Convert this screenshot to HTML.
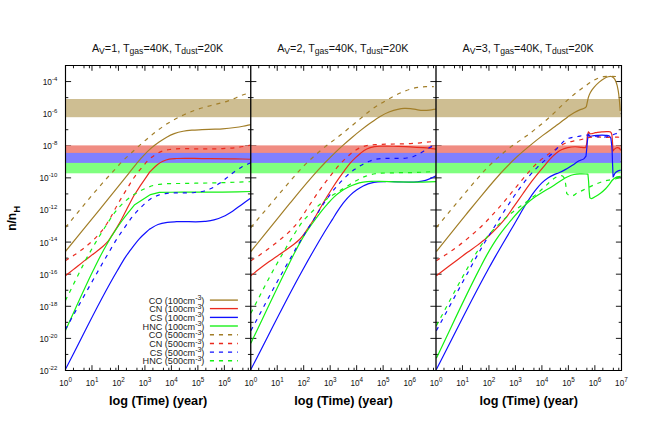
<!DOCTYPE html>
<html><head><meta charset="utf-8"><title>chart</title>
<style>html,body{margin:0;padding:0;background:#fff}body{width:654px;height:436px;position:relative;overflow:hidden;font-family:"Liberation Sans",sans-serif}</style></head>
<body>
<svg width="654" height="436" viewBox="0 0 654 436" style="position:absolute;left:0;top:0;font-family:'Liberation Sans',sans-serif">
<rect width="654" height="436" fill="#fff"/>
<path d="M65.50 354.45h2.80 M250.75 354.45h-2.80 M65.50 338.39h5.60 M250.75 338.39h-5.60 M65.50 322.34h2.80 M250.75 322.34h-2.80 M65.50 306.29h5.60 M250.75 306.29h-5.60 M65.50 290.24h2.80 M250.75 290.24h-2.80 M65.50 274.18h5.60 M250.75 274.18h-5.60 M65.50 258.13h2.80 M250.75 258.13h-2.80 M65.50 242.08h5.60 M250.75 242.08h-5.60 M65.50 226.03h2.80 M250.75 226.03h-2.80 M65.50 209.97h5.60 M250.75 209.97h-5.60 M65.50 193.92h2.80 M250.75 193.92h-2.80 M65.50 177.87h5.60 M250.75 177.87h-5.60 M65.50 161.82h2.80 M250.75 161.82h-2.80 M65.50 145.76h5.60 M250.75 145.76h-5.60 M65.50 129.71h2.80 M250.75 129.71h-2.80 M65.50 113.66h5.60 M250.75 113.66h-5.60 M65.50 97.61h2.80 M250.75 97.61h-2.80 M65.50 81.55h5.60 M250.75 81.55h-5.60 M73.47 370.50v-2.75 M73.47 65.50v2.75 M84.01 370.50v-2.75 M84.01 65.50v2.75 M89.41 370.50v-2.75 M89.41 65.50v2.75 M91.98 370.50v-5.30 M91.98 65.50v5.30 M99.95 370.50v-2.75 M99.95 65.50v2.75 M110.48 370.50v-2.75 M110.48 65.50v2.75 M115.89 370.50v-2.75 M115.89 65.50v2.75 M118.45 370.50v-5.30 M118.45 65.50v5.30 M126.42 370.50v-2.75 M126.42 65.50v2.75 M136.96 370.50v-2.75 M136.96 65.50v2.75 M142.36 370.50v-2.75 M142.36 65.50v2.75 M144.93 370.50v-5.30 M144.93 65.50v5.30 M152.90 370.50v-2.75 M152.90 65.50v2.75 M163.43 370.50v-2.75 M163.43 65.50v2.75 M168.84 370.50v-2.75 M168.84 65.50v2.75 M171.40 370.50v-5.30 M171.40 65.50v5.30 M179.37 370.50v-2.75 M179.37 65.50v2.75 M189.91 370.50v-2.75 M189.91 65.50v2.75 M195.32 370.50v-2.75 M195.32 65.50v2.75 M197.88 370.50v-5.30 M197.88 65.50v5.30 M205.85 370.50v-2.75 M205.85 65.50v2.75 M216.39 370.50v-2.75 M216.39 65.50v2.75 M221.79 370.50v-2.75 M221.79 65.50v2.75 M224.36 370.50v-5.30 M224.36 65.50v5.30 M232.33 370.50v-2.75 M232.33 65.50v2.75 M242.86 370.50v-2.75 M242.86 65.50v2.75 M248.27 370.50v-2.75 M248.27 65.50v2.75 M250.75 354.45h2.80 M436.00 354.45h-2.80 M250.75 338.39h5.60 M436.00 338.39h-5.60 M250.75 322.34h2.80 M436.00 322.34h-2.80 M250.75 306.29h5.60 M436.00 306.29h-5.60 M250.75 290.24h2.80 M436.00 290.24h-2.80 M250.75 274.18h5.60 M436.00 274.18h-5.60 M250.75 258.13h2.80 M436.00 258.13h-2.80 M250.75 242.08h5.60 M436.00 242.08h-5.60 M250.75 226.03h2.80 M436.00 226.03h-2.80 M250.75 209.97h5.60 M436.00 209.97h-5.60 M250.75 193.92h2.80 M436.00 193.92h-2.80 M250.75 177.87h5.60 M436.00 177.87h-5.60 M250.75 161.82h2.80 M436.00 161.82h-2.80 M250.75 145.76h5.60 M436.00 145.76h-5.60 M250.75 129.71h2.80 M436.00 129.71h-2.80 M250.75 113.66h5.60 M436.00 113.66h-5.60 M250.75 97.61h2.80 M436.00 97.61h-2.80 M250.75 81.55h5.60 M436.00 81.55h-5.60 M258.72 370.50v-2.75 M258.72 65.50v2.75 M269.26 370.50v-2.75 M269.26 65.50v2.75 M274.66 370.50v-2.75 M274.66 65.50v2.75 M277.23 370.50v-5.30 M277.23 65.50v5.30 M285.20 370.50v-2.75 M285.20 65.50v2.75 M295.73 370.50v-2.75 M295.73 65.50v2.75 M301.14 370.50v-2.75 M301.14 65.50v2.75 M303.70 370.50v-5.30 M303.70 65.50v5.30 M311.67 370.50v-2.75 M311.67 65.50v2.75 M322.21 370.50v-2.75 M322.21 65.50v2.75 M327.61 370.50v-2.75 M327.61 65.50v2.75 M330.18 370.50v-5.30 M330.18 65.50v5.30 M338.15 370.50v-2.75 M338.15 65.50v2.75 M348.68 370.50v-2.75 M348.68 65.50v2.75 M354.09 370.50v-2.75 M354.09 65.50v2.75 M356.65 370.50v-5.30 M356.65 65.50v5.30 M364.62 370.50v-2.75 M364.62 65.50v2.75 M375.16 370.50v-2.75 M375.16 65.50v2.75 M380.57 370.50v-2.75 M380.57 65.50v2.75 M383.13 370.50v-5.30 M383.13 65.50v5.30 M391.10 370.50v-2.75 M391.10 65.50v2.75 M401.64 370.50v-2.75 M401.64 65.50v2.75 M407.04 370.50v-2.75 M407.04 65.50v2.75 M409.61 370.50v-5.30 M409.61 65.50v5.30 M417.58 370.50v-2.75 M417.58 65.50v2.75 M428.11 370.50v-2.75 M428.11 65.50v2.75 M433.52 370.50v-2.75 M433.52 65.50v2.75 M436.00 354.45h2.80 M621.50 354.45h-2.80 M436.00 338.39h5.60 M621.50 338.39h-5.60 M436.00 322.34h2.80 M621.50 322.34h-2.80 M436.00 306.29h5.60 M621.50 306.29h-5.60 M436.00 290.24h2.80 M621.50 290.24h-2.80 M436.00 274.18h5.60 M621.50 274.18h-5.60 M436.00 258.13h2.80 M621.50 258.13h-2.80 M436.00 242.08h5.60 M621.50 242.08h-5.60 M436.00 226.03h2.80 M621.50 226.03h-2.80 M436.00 209.97h5.60 M621.50 209.97h-5.60 M436.00 193.92h2.80 M621.50 193.92h-2.80 M436.00 177.87h5.60 M621.50 177.87h-5.60 M436.00 161.82h2.80 M621.50 161.82h-2.80 M436.00 145.76h5.60 M621.50 145.76h-5.60 M436.00 129.71h2.80 M621.50 129.71h-2.80 M436.00 113.66h5.60 M621.50 113.66h-5.60 M436.00 97.61h2.80 M621.50 97.61h-2.80 M436.00 81.55h5.60 M621.50 81.55h-5.60 M443.97 370.50v-2.75 M443.97 65.50v2.75 M454.51 370.50v-2.75 M454.51 65.50v2.75 M459.91 370.50v-2.75 M459.91 65.50v2.75 M462.48 370.50v-5.30 M462.48 65.50v5.30 M470.45 370.50v-2.75 M470.45 65.50v2.75 M480.98 370.50v-2.75 M480.98 65.50v2.75 M486.39 370.50v-2.75 M486.39 65.50v2.75 M488.95 370.50v-5.30 M488.95 65.50v5.30 M496.92 370.50v-2.75 M496.92 65.50v2.75 M507.46 370.50v-2.75 M507.46 65.50v2.75 M512.86 370.50v-2.75 M512.86 65.50v2.75 M515.43 370.50v-5.30 M515.43 65.50v5.30 M523.40 370.50v-2.75 M523.40 65.50v2.75 M533.93 370.50v-2.75 M533.93 65.50v2.75 M539.34 370.50v-2.75 M539.34 65.50v2.75 M541.90 370.50v-5.30 M541.90 65.50v5.30 M549.87 370.50v-2.75 M549.87 65.50v2.75 M560.41 370.50v-2.75 M560.41 65.50v2.75 M565.82 370.50v-2.75 M565.82 65.50v2.75 M568.38 370.50v-5.30 M568.38 65.50v5.30 M576.35 370.50v-2.75 M576.35 65.50v2.75 M586.89 370.50v-2.75 M586.89 65.50v2.75 M592.29 370.50v-2.75 M592.29 65.50v2.75 M594.86 370.50v-5.30 M594.86 65.50v5.30 M602.83 370.50v-2.75 M602.83 65.50v2.75 M613.36 370.50v-2.75 M613.36 65.50v2.75 M618.77 370.50v-2.75 M618.77 65.50v2.75" stroke="#000" stroke-width="0.9" fill="none"/>
<rect x="65.90" y="99.00" width="554.85" height="18.20" fill="#CEBE92"/>
<rect x="65.90" y="145.40" width="554.85" height="7.60" fill="#F08C82"/>
<rect x="65.90" y="152.90" width="554.85" height="10.10" fill="#8080FF"/>
<rect x="65.90" y="162.90" width="554.85" height="10.40" fill="#80FF80"/>
<defs><clipPath id="cp"><rect x="65.50" y="65.50" width="556.00" height="305.00"/></clipPath></defs>
<g clip-path="url(#cp)" fill="none" stroke-width="1.20" stroke-linejoin="round">
<path d="M65.35 251.50 C76.90 237.37 88.50 223.27 100.00 209.10 C109.64 197.22 119.27 185.33 128.80 173.37 C131.34 170.18 133.79 166.92 136.40 163.79 C138.87 160.83 141.33 157.85 144.00 155.06 C146.39 152.57 148.87 150.14 151.50 147.89 C153.93 145.83 156.49 143.92 159.10 142.09 C161.57 140.35 164.05 138.62 166.70 137.17 C169.12 135.84 171.62 134.64 174.20 133.68 C177.08 132.61 180.08 131.84 183.10 131.24 C186.00 130.67 188.96 130.40 191.90 130.14 C195.26 129.84 198.63 129.82 202.00 129.68 C206.33 129.50 210.67 129.40 215.00 129.20 C217.50 129.08 220.00 128.98 222.50 128.80 C226.68 128.49 230.85 128.07 235.00 127.50 C237.68 127.13 240.34 126.71 243.00 126.22 C245.61 125.74 248.20 125.14 250.80 124.60" stroke="#A27E28"/>
<path d="M65.35 275.75 C67.97 273.71 70.59 271.68 73.20 269.63 C76.78 266.82 80.31 263.93 83.90 261.13 C87.24 258.53 90.65 256.01 94.00 253.41 C96.95 251.13 100.03 249.00 102.80 246.50 C104.57 244.91 106.20 243.17 107.90 241.50 C109.57 238.97 111.27 236.46 112.90 233.90 C114.64 231.17 116.35 228.41 118.00 225.62 C119.23 223.52 120.44 221.42 121.60 219.29 C123.54 215.75 125.25 212.09 127.10 208.50 C129.17 204.49 131.30 200.50 133.40 196.50 C136.13 192.30 138.82 188.07 141.60 183.90 C144.29 179.87 147.07 175.90 149.80 171.90 C152.40 169.40 154.67 166.50 157.60 164.40 C159.27 163.20 161.03 162.09 162.90 161.21 C164.91 160.27 167.03 159.54 169.20 159.07 C171.68 158.54 174.26 158.64 176.80 158.50 C185.19 158.01 193.60 158.53 202.00 158.58 C213.00 158.63 224.00 158.59 235.00 158.82 C240.27 158.93 245.53 159.11 250.80 159.25" stroke="#EA2A1E"/>
<path d="M65.35 369.50 C82.70 336.50 98.36 302.55 117.40 270.49 C120.10 265.95 122.68 261.32 125.60 256.92 C128.19 253.02 130.92 249.22 133.80 245.53 C135.58 243.24 137.36 240.95 139.30 238.80 C142.46 235.30 146.17 232.33 149.60 229.10 C152.40 227.57 155.01 225.63 158.00 224.50 C160.97 223.38 164.16 222.88 167.30 222.42 C170.38 221.96 173.50 221.88 176.60 221.69 C185.92 221.13 195.33 222.53 204.60 221.42 C207.75 221.04 210.93 220.72 214.00 219.93 C217.19 219.12 220.31 217.97 223.30 216.58 C226.56 215.07 229.59 213.10 232.60 211.14 C235.81 209.05 238.79 206.63 241.90 204.39 C244.86 202.25 247.83 200.13 250.80 198.00" stroke="#1010FF"/>
<path d="M65.35 330.75 C74.70 310.52 83.58 290.07 93.40 270.07 C95.68 265.43 97.90 260.77 100.30 256.20 C102.73 251.56 105.24 246.95 107.90 242.43 C110.33 238.32 112.88 234.27 115.50 230.28 C117.67 226.98 119.88 223.70 122.20 220.50 C126.13 215.06 130.53 209.97 134.70 204.70 L150.50 194.60 L159.30 192.40 C166.87 192.30 174.43 192.16 182.00 192.10 C195.50 191.99 209.00 192.28 222.50 192.11 C231.93 191.99 241.37 191.70 250.80 191.50" stroke="#14F014"/>
<path d="M65.35 227.50 C76.90 213.66 88.12 199.53 100.00 185.97 C101.89 183.81 103.78 181.65 105.70 179.51 C107.78 177.19 109.90 174.90 112.00 172.59 C113.90 170.50 115.78 168.39 117.70 166.31 C119.51 164.36 121.31 162.38 123.20 160.49 C125.24 158.46 127.39 156.54 129.50 154.59 C131.79 152.48 134.09 150.39 136.40 148.30 C138.69 146.23 140.96 144.14 143.30 142.12 C145.60 140.13 147.95 138.21 150.30 136.29 C152.58 134.42 154.85 132.52 157.20 130.74 C159.49 128.99 161.81 127.30 164.20 125.69 C166.65 124.05 169.15 122.49 171.70 121.02 C176.00 118.52 180.46 116.27 185.00 114.25 C189.09 112.43 193.27 110.81 197.50 109.36 C203.23 107.40 209.16 106.10 215.00 104.49 C219.16 103.35 223.41 102.45 227.50 101.07 C229.69 100.34 231.86 99.54 234.00 98.66 C236.03 97.82 237.95 96.74 240.00 95.95 C242.04 95.16 244.11 94.42 246.25 93.93 C247.75 93.59 249.28 93.44 250.80 93.20" stroke="#A27E28" stroke-dasharray="4.1 4.95"/>
<path d="M65.35 260.80 C68.17 258.99 71.01 257.22 73.80 255.36 C76.36 253.64 78.94 251.95 81.40 250.10 C83.77 248.33 86.06 246.44 88.30 244.51 C90.70 242.44 93.07 240.33 95.30 238.07 C97.51 235.83 99.63 233.50 101.60 231.04 C103.65 228.48 105.53 225.78 107.30 223.01 C108.61 220.97 109.82 218.88 111.00 216.76 C112.23 214.55 113.30 212.25 114.50 210.03 C115.92 207.39 117.41 204.79 118.90 202.20 C120.34 199.70 121.80 197.22 123.30 194.75 C124.77 192.33 126.31 189.94 127.80 187.53 C129.38 184.98 130.84 182.35 132.50 179.85 C134.17 177.35 135.96 174.92 137.80 172.54 C139.60 170.20 141.47 167.93 143.40 165.70 C145.22 163.60 146.95 161.40 149.00 159.53 C151.15 157.55 153.50 155.77 156.00 154.26 C158.37 152.83 160.86 151.52 163.50 150.68 C166.14 149.83 168.95 149.64 171.70 149.26 C181.71 147.88 191.90 149.00 202.00 148.87 C208.83 148.78 215.67 148.93 222.50 148.61 C226.67 148.41 230.85 148.22 235.00 147.74 C239.19 147.25 243.36 146.55 247.50 145.71 C248.60 145.48 249.70 145.24 250.80 145.00" stroke="#EA2A1E" stroke-dasharray="4.1 4.95"/>
<path d="M65.35 329.50 C76.60 309.41 87.73 289.24 99.10 269.22 C100.56 266.64 102.01 264.05 103.50 261.49 C104.95 259.00 106.44 256.53 107.90 254.05 C109.37 251.54 110.82 249.02 112.30 246.52 C113.75 244.06 115.18 241.59 116.70 239.18 C118.34 236.58 120.06 234.03 121.80 231.50 C123.43 229.12 125.12 226.78 126.80 224.43 C128.46 222.11 130.04 219.73 131.80 217.48 C133.51 215.30 135.32 213.19 137.20 211.15 C139.21 208.96 141.31 206.83 143.50 204.82 C145.74 202.76 147.94 200.60 150.50 198.97 C152.84 197.47 155.38 196.26 158.00 195.33 C160.86 194.31 163.89 193.73 166.90 193.33 C169.84 192.94 172.83 193.03 175.80 192.91 C182.10 192.67 188.43 193.15 194.70 192.50 C197.65 192.19 200.63 191.96 203.50 191.24 C206.11 190.59 208.67 189.71 211.10 188.56 C213.79 187.29 216.24 185.54 218.70 183.87 C221.29 182.10 223.72 180.12 226.20 178.21 C228.76 176.24 231.18 174.10 233.80 172.21 C236.26 170.44 238.76 168.69 241.40 167.20 C243.85 165.81 246.41 164.62 249.00 163.53 C249.60 163.28 250.20 163.04 250.80 162.80" stroke="#1010FF" stroke-dasharray="4.1 4.95"/>
<path d="M65.35 300.75 C70.50 290.39 75.61 280.02 80.80 269.68 C82.26 266.77 83.69 263.84 85.20 260.96 C86.62 258.24 88.10 255.56 89.60 252.89 C91.04 250.33 92.52 247.81 94.00 245.28 C95.46 242.79 96.90 240.29 98.40 237.82 C99.84 235.45 101.33 233.12 102.80 230.77 C104.50 228.05 106.17 225.33 107.90 222.63 C109.18 220.64 110.44 218.62 111.80 216.67 C113.66 214.00 115.58 211.36 117.70 208.90 C119.85 206.40 122.16 204.03 124.60 201.81 C126.79 199.82 129.08 197.92 131.50 196.21 C133.92 194.51 136.50 193.03 139.10 191.61 C141.58 190.25 144.09 188.95 146.70 187.87 C149.14 186.85 151.63 185.88 154.20 185.24 C157.11 184.51 160.12 184.28 163.10 183.96 C169.37 183.30 175.70 183.62 182.00 183.47 C195.50 183.14 209.00 183.07 222.50 182.67 C230.47 182.44 238.43 182.06 246.40 181.82 C247.87 181.78 249.33 181.74 250.80 181.70" stroke="#14F014" stroke-dasharray="4.1 4.95"/>
<path d="M250.85 251.50 C260.67 239.34 270.42 227.12 280.30 215.01 C283.53 211.05 286.75 207.09 290.00 203.15 C299.27 191.95 308.48 180.68 318.30 169.96 C320.58 167.47 322.86 164.98 325.20 162.54 C328.11 159.51 331.08 156.54 334.10 153.62 C336.99 150.83 339.92 148.09 342.90 145.41 C345.79 142.80 348.73 140.25 351.70 137.74 C354.54 135.34 357.38 132.95 360.30 130.65 C363.38 128.21 366.51 125.84 369.70 123.55 C373.14 121.08 376.52 118.50 380.20 116.40 C383.04 114.78 385.96 113.27 389.00 112.06 C391.86 110.93 394.79 109.95 397.80 109.32 C399.91 108.87 402.05 108.51 404.20 108.39 C406.30 108.28 408.41 108.40 410.50 108.61 C412.62 108.83 414.69 109.39 416.80 109.69 C418.89 109.99 420.99 110.34 423.10 110.41 C425.20 110.48 427.31 110.35 429.40 110.13 C431.62 109.90 433.80 109.38 436.00 109.00" stroke="#A27E28"/>
<path d="M250.85 275.75 C253.30 273.77 255.72 271.75 258.20 269.82 C261.71 267.08 265.29 264.44 268.90 261.84 C273.47 258.54 278.18 255.43 282.80 252.20 C286.17 249.84 289.67 247.63 292.90 245.08 C295.53 243.01 298.25 240.99 300.50 238.52 C301.84 237.05 303.01 235.43 304.20 233.83 C306.00 231.41 307.64 228.87 309.30 226.36 C311.08 223.67 312.83 220.96 314.50 218.20 C316.52 214.87 318.35 211.41 320.30 208.04 C322.38 204.45 324.45 200.85 326.60 197.30 C328.66 193.91 330.75 190.54 332.90 187.20 C334.95 184.03 337.03 180.88 339.20 177.79 C340.92 175.34 342.71 172.94 344.50 170.54 C346.31 168.13 348.03 165.65 350.00 163.38 C351.67 161.45 353.46 159.63 355.30 157.87 C357.01 156.24 358.73 154.62 360.60 153.18 C362.57 151.66 364.56 150.12 366.80 149.04 C369.19 147.89 371.79 147.18 374.40 146.70 C376.90 146.23 379.46 146.25 382.00 146.14 C387.26 145.91 392.53 146.26 397.80 146.40 C402.03 146.50 406.27 146.59 410.50 146.81 C414.70 147.02 418.91 147.32 423.10 147.70 C427.41 148.09 431.70 148.63 436.00 149.10" stroke="#EA2A1E"/>
<path d="M250.85 369.50 C268.03 336.49 284.29 302.97 302.40 270.46 C305.93 264.12 309.48 257.78 313.10 251.49 C316.42 245.71 319.75 239.93 323.20 234.22 C326.17 229.30 329.25 224.45 332.30 219.58 C334.16 216.61 335.94 213.58 337.90 210.67 C339.91 207.70 341.92 204.71 344.20 201.94 C346.20 199.49 348.29 197.09 350.60 194.93 C352.58 193.09 354.68 191.36 356.90 189.81 C358.91 188.40 361.00 187.08 363.20 185.98 C364.76 185.20 366.36 184.48 368.00 183.90 C369.92 183.22 371.90 182.72 373.90 182.33 C377.61 181.60 381.43 181.63 385.20 181.53 C389.40 181.42 393.60 181.77 397.80 181.83 C404.13 181.93 410.51 182.60 416.80 181.87 C419.76 181.53 422.75 181.21 425.60 180.36 C427.77 179.72 429.84 178.78 431.90 177.84 C433.29 177.21 434.63 176.48 436.00 175.80" stroke="#1010FF"/>
<path d="M250.85 343.25 C262.57 318.82 273.96 294.24 286.00 269.97 C288.72 264.49 291.38 258.99 294.20 253.56 C296.64 248.86 299.00 244.12 301.70 239.57 C304.08 235.55 306.65 231.63 309.30 227.78 C311.46 224.63 313.73 221.56 316.00 218.49 C317.81 216.04 319.61 213.57 321.50 211.18 C323.53 208.60 325.62 206.06 327.80 203.61 C329.86 201.29 331.91 198.93 334.20 196.83 C336.19 195.01 338.29 193.29 340.50 191.75 C342.88 190.09 345.40 188.62 348.00 187.32 C350.46 186.09 352.99 184.99 355.60 184.13 C358.08 183.30 360.63 182.68 363.20 182.21 C366.10 181.68 369.05 181.41 372.00 181.28 C374.30 181.18 376.60 181.28 378.90 181.30 C385.20 181.37 391.50 181.73 397.80 181.86 C404.13 182.00 410.47 182.15 416.80 182.13 C423.20 182.10 429.60 181.84 436.00 181.70" stroke="#14F014"/>
<path d="M250.85 227.50 C257.23 219.95 263.60 212.38 270.00 204.84 C276.65 197.00 283.25 189.11 290.00 181.36 C294.30 176.42 298.42 171.32 303.00 166.65 C305.12 164.49 307.29 162.39 309.50 160.33 C311.76 158.22 314.07 156.18 316.40 154.15 C318.67 152.17 320.96 150.20 323.30 148.30 C325.60 146.43 327.95 144.64 330.30 142.84 C332.59 141.08 334.92 139.38 337.20 137.61 C339.56 135.77 341.88 133.88 344.20 132.00 C346.51 130.14 348.81 128.26 351.10 126.36 C353.41 124.46 355.70 122.53 358.00 120.61 C360.00 118.93 361.99 117.24 364.00 115.58 C366.22 113.75 368.39 111.87 370.70 110.16 C373.34 108.21 376.12 106.44 378.90 104.69 C381.39 103.13 383.95 101.67 386.50 100.20 C389.02 98.76 391.52 97.29 394.10 95.96 C396.98 94.48 399.90 93.07 402.90 91.84 C405.39 90.82 407.91 89.84 410.50 89.09 C412.96 88.37 415.47 87.79 418.00 87.40 C420.51 87.00 423.06 86.84 425.60 86.71 C428.33 86.56 431.07 86.64 433.80 86.60" stroke="#A27E28" stroke-dasharray="4.1 4.95"/>
<path d="M250.85 260.80 C253.73 258.95 256.67 257.18 259.50 255.25 C261.84 253.65 264.12 251.97 266.40 250.29 C268.96 248.40 271.49 246.48 274.00 244.52 C276.32 242.71 278.63 240.86 280.90 238.98 C283.23 237.06 285.58 235.17 287.80 233.12 C290.02 231.06 292.19 228.94 294.20 226.68 C296.16 224.48 297.95 222.12 299.70 219.75 C301.37 217.49 302.93 215.15 304.50 212.81 C306.00 210.58 307.42 208.31 308.90 206.06 C310.59 203.50 312.29 200.94 314.00 198.39 C315.66 195.92 317.29 193.44 319.00 191.01 C320.66 188.66 322.36 186.33 324.10 184.03 C325.93 181.61 327.84 179.27 329.70 176.87 C331.54 174.49 333.29 172.04 335.20 169.71 C336.88 167.67 338.60 165.67 340.40 163.73 C342.42 161.55 344.52 159.43 346.70 157.40 C348.92 155.33 351.10 153.18 353.60 151.45 C355.80 149.93 358.13 148.55 360.60 147.52 C363.00 146.52 365.55 145.86 368.10 145.35 C371.41 144.70 374.83 144.75 378.20 144.51 C388.94 143.75 399.75 144.29 410.50 143.58 C413.87 143.36 417.24 143.09 420.60 142.80 C424.57 142.45 428.53 142.00 432.50 141.60" stroke="#EA2A1E" stroke-dasharray="4.1 4.95"/>
<path d="M250.85 330.75 C261.93 310.30 272.63 289.63 284.10 269.40 C285.56 266.82 287.03 264.25 288.50 261.68 C289.96 259.12 291.45 256.56 292.90 254.00 C294.38 251.38 295.79 248.72 297.30 246.13 C298.72 243.69 300.24 241.30 301.70 238.88 C303.17 236.44 304.60 233.97 306.10 231.55 C307.57 229.18 309.10 226.86 310.60 224.51 C312.27 221.90 313.98 219.31 315.60 216.67 C317.21 214.06 318.67 211.35 320.30 208.74 C321.91 206.16 323.57 203.61 325.30 201.11 C326.94 198.74 328.64 196.40 330.40 194.10 C332.02 191.98 333.68 189.89 335.40 187.86 C337.42 185.47 339.53 183.16 341.70 180.90 C343.55 178.98 345.42 177.07 347.40 175.27 C349.61 173.28 351.88 171.34 354.30 169.60 C356.69 167.89 359.22 166.36 361.80 164.93 C364.27 163.57 366.76 162.21 369.40 161.20 C371.67 160.33 374.02 159.65 376.40 159.14 C381.33 158.09 386.46 158.54 391.50 158.35 C396.56 158.16 401.69 158.73 406.70 158.00 C408.82 157.69 410.97 157.42 413.00 156.75 C415.21 156.02 417.24 154.82 419.30 153.72 C421.91 152.32 424.33 150.59 426.90 149.12 C429.88 147.42 432.97 145.91 436.00 144.30" stroke="#1010FF" stroke-dasharray="4.1 4.95"/>
<path d="M250.85 313.25 C258.77 298.11 266.26 282.74 274.60 267.82 C276.48 264.46 278.39 261.12 280.30 257.78 C282.78 253.43 285.24 249.08 287.80 244.78 C289.48 241.96 291.18 239.16 292.90 236.37 C294.55 233.69 296.15 230.97 297.90 228.35 C299.53 225.90 301.13 223.42 303.00 221.14 C304.61 219.18 306.44 217.39 308.20 215.56 C310.48 213.20 312.80 210.87 315.20 208.63 C317.25 206.70 319.32 204.79 321.50 203.00 C323.94 201.00 326.48 199.13 329.10 197.36 C331.15 195.98 333.29 194.72 335.40 193.43 C337.92 191.89 340.49 190.43 343.00 188.88 C345.56 187.29 348.03 185.58 350.60 184.01 C353.07 182.51 355.53 180.98 358.10 179.66 C360.67 178.33 363.28 177.04 366.00 176.07 C368.95 175.02 372.02 174.29 375.10 173.74 C380.49 172.76 386.03 173.07 391.50 172.86 C399.93 172.53 408.37 172.73 416.80 172.42 C422.27 172.21 427.73 171.87 433.20 171.60" stroke="#14F014" stroke-dasharray="4.1 4.95"/>
<path d="M436.35 251.50 C446.10 239.35 455.76 227.12 465.60 215.05 C469.06 210.81 472.51 206.56 476.00 202.35 C485.06 191.43 493.93 180.31 503.70 170.02 C505.38 168.25 507.08 166.48 508.80 164.74 C511.64 161.87 514.53 159.04 517.50 156.31 C521.60 152.52 525.89 148.94 530.20 145.39 C534.34 141.98 538.53 138.64 542.80 135.39 C546.94 132.25 551.20 129.27 555.40 126.20 C557.27 124.83 559.15 123.49 561.00 122.10 C563.26 120.41 565.41 118.57 567.70 116.92 C569.76 115.44 571.80 113.92 574.00 112.66 C576.02 111.51 578.14 110.49 580.30 109.63 C581.74 109.05 583.43 109.00 584.70 108.10 C585.34 107.65 585.83 107.03 586.40 106.50 C586.80 104.60 587.17 102.69 587.60 100.80 C587.89 99.51 588.10 98.21 588.50 96.95 C588.99 95.39 589.62 93.87 590.40 92.43 C591.43 90.53 592.80 88.81 594.20 87.16 C595.72 85.36 597.40 83.68 599.20 82.16 C600.80 80.81 602.47 79.50 604.30 78.50 C605.52 77.83 606.75 77.11 608.10 76.79 C609.11 76.55 610.19 76.28 611.20 76.51 C612.18 76.74 613.05 77.39 613.80 78.06 C615.11 79.24 615.63 81.10 616.30 82.73 C617.32 85.21 617.70 87.91 618.20 90.55 C618.82 93.83 619.07 97.16 619.40 100.48 C619.74 103.95 619.93 107.43 620.20 110.90" stroke="#A27E28"/>
<path d="M436.35 275.75 C438.97 273.75 441.58 271.73 444.20 269.74 C447.75 267.04 451.33 264.36 454.90 261.69 C459.09 258.56 463.27 255.41 467.50 252.34 C470.85 249.91 474.30 247.63 477.60 245.13 C480.63 242.84 483.66 240.54 486.50 238.02 C488.68 236.10 490.73 234.04 492.80 232.00 C494.93 229.91 497.06 227.82 499.10 225.65 C501.13 223.48 503.12 221.28 505.00 218.99 C508.20 215.09 510.89 210.79 513.80 206.68 C516.79 202.46 519.71 198.20 522.70 193.98 C525.61 189.86 528.46 185.68 531.50 181.66 C533.96 178.40 536.50 175.20 539.10 172.05 C541.03 169.71 543.05 167.45 545.00 165.13 C546.68 163.14 548.23 161.05 550.00 159.14 C552.01 156.97 554.05 154.79 556.40 152.99 C557.98 151.78 559.62 150.61 561.40 149.73 C563.39 148.76 565.54 148.12 567.70 147.62 C570.19 147.05 572.75 146.74 575.30 146.75 C577.41 146.76 579.50 147.22 581.60 147.40 C582.93 147.51 584.27 147.60 585.60 147.70 C585.93 146.50 586.32 145.31 586.60 144.10 C587.31 141.00 586.77 137.67 587.60 134.60 C587.85 133.65 588.20 132.73 588.50 131.80 C588.93 132.33 589.25 132.99 589.80 133.40 C591.34 134.54 593.60 132.92 595.50 132.68 C597.60 132.42 599.69 132.07 601.80 131.91 C603.89 131.74 606.01 131.45 608.10 131.68 C608.94 131.77 609.90 131.62 610.60 132.10 C611.37 132.63 611.47 133.77 611.90 134.60 C612.10 137.13 612.34 139.66 612.50 142.20 C612.69 145.13 612.77 148.07 612.90 151.00 C613.40 150.37 613.79 149.63 614.40 149.10 C615.27 148.35 616.36 147.53 617.50 147.60 C618.18 147.65 618.86 147.91 619.40 148.32 C620.05 148.82 620.27 149.71 620.70 150.40" stroke="#EA2A1E"/>
<path d="M436.35 369.50 C453.47 336.40 469.68 302.82 487.70 270.21 C490.22 265.66 492.73 261.10 495.30 256.58 C497.80 252.19 500.35 247.83 502.90 243.48 C505.38 239.24 507.91 235.03 510.40 230.80 C512.61 227.05 514.83 223.30 517.00 219.53 C518.92 216.18 520.73 212.77 522.70 209.45 C524.73 206.03 526.79 202.62 529.00 199.31 C531.01 196.29 533.06 193.29 535.30 190.44 C537.29 187.91 539.28 185.35 541.60 183.12 C543.56 181.24 545.63 179.44 547.90 177.95 C549.89 176.65 552.04 175.62 554.20 174.64 C555.74 173.95 557.35 173.44 558.90 172.76 C561.05 171.81 563.15 170.76 565.20 169.63 C567.81 168.19 570.28 166.50 572.80 164.90 C574.91 163.56 576.89 161.99 579.10 160.83 C580.71 159.98 582.75 159.83 584.10 158.60 C584.87 157.89 585.37 156.93 586.00 156.10 C586.30 153.13 586.60 150.17 586.90 147.20 C587.24 143.83 587.33 140.43 587.90 137.10 C588.08 136.06 588.30 135.03 588.50 134.00 C588.93 134.83 588.90 136.24 589.80 136.50 C590.43 136.68 591.06 136.15 591.70 136.00 C593.76 135.54 595.89 135.45 598.00 135.33 C600.53 135.19 603.08 135.12 605.60 135.36 C606.84 135.49 608.29 135.17 609.30 135.90 C610.10 136.48 610.37 137.57 610.90 138.40 C611.23 141.33 611.65 144.26 611.90 147.20 C612.34 152.25 612.30 157.33 612.50 162.40 C612.70 167.27 612.90 172.13 613.10 177.00 C613.93 175.50 614.34 173.67 615.60 172.50 C616.35 171.80 617.25 171.25 618.20 170.85 C618.99 170.52 619.87 170.42 620.70 170.20" stroke="#1010FF"/>
<path d="M436.35 358.25 C450.53 328.88 463.93 299.12 478.90 270.15 C481.41 265.29 483.83 260.38 486.50 255.60 C488.52 251.97 490.59 248.36 492.80 244.85 C494.81 241.64 496.90 238.49 499.10 235.41 C501.12 232.59 503.24 229.84 505.40 227.13 C507.38 224.64 509.44 222.22 511.50 219.79 C513.93 216.92 516.32 214.01 518.90 211.27 C521.34 208.67 523.84 206.13 526.50 203.77 C529.30 201.29 532.24 198.95 535.30 196.80 C538.13 194.80 541.14 193.07 544.10 191.26 C546.91 189.53 549.81 187.95 552.60 186.18 C555.14 184.57 557.55 182.75 560.10 181.15 C562.59 179.59 565.02 177.89 567.70 176.69 C569.73 175.78 571.82 174.93 574.00 174.47 C576.06 174.03 578.19 173.98 580.30 173.90 C582.83 173.81 585.37 174.03 587.90 174.10 C588.10 176.13 588.33 178.16 588.50 180.20 C588.82 183.96 588.89 187.74 589.20 191.50 C589.38 193.60 589.60 195.70 589.80 197.80 C590.20 198.03 590.56 198.35 591.00 198.50 C592.56 199.04 594.05 197.21 595.50 196.42 C597.24 195.48 598.91 194.39 600.50 193.20 C602.31 191.86 604.03 190.37 605.60 188.75 C606.93 187.38 608.12 185.88 609.30 184.38 C610.42 182.95 611.23 181.28 612.50 180.00 C613.44 179.05 614.42 178.10 615.60 177.49 C617.14 176.69 619.00 176.76 620.70 176.40" stroke="#14F014"/>
<path d="M436.35 227.50 C442.90 219.62 449.41 211.72 456.00 203.87 C462.63 195.97 469.18 188.01 476.00 180.27 C480.05 175.67 483.98 170.96 488.30 166.62 C490.42 164.50 492.60 162.44 494.80 160.41 C497.09 158.29 499.43 156.22 501.80 154.19 C504.06 152.26 506.35 150.35 508.70 148.52 C510.95 146.78 513.28 145.12 515.60 143.47 C518.11 141.69 520.69 140.02 523.20 138.24 C525.55 136.58 527.91 134.91 530.20 133.16 C532.54 131.38 534.81 129.49 537.10 127.63 C539.41 125.77 541.73 123.92 544.00 122.00 C546.65 119.76 549.24 117.46 551.80 115.12 C555.07 112.12 558.17 108.94 561.40 105.90 C564.11 103.34 566.80 100.76 569.60 98.29 C571.86 96.31 574.14 94.35 576.50 92.48 C578.97 90.53 581.54 88.72 584.10 86.88 C586.38 85.25 588.62 83.54 591.00 82.05 C593.08 80.75 595.13 79.37 597.40 78.44 C599.42 77.62 601.55 77.01 603.70 76.65 C606.10 76.26 608.57 76.43 611.00 76.41 C613.73 76.40 616.47 76.54 619.20 76.60" stroke="#A27E28" stroke-dasharray="4.1 4.95"/>
<path d="M436.35 260.80 C439.17 258.99 442.00 257.20 444.80 255.36 C447.35 253.67 449.90 251.99 452.40 250.23 C454.73 248.59 457.04 246.92 459.30 245.19 C461.68 243.38 463.99 241.48 466.30 239.59 C468.62 237.69 470.94 235.78 473.20 233.81 C475.57 231.75 477.92 229.65 480.20 227.48 C482.35 225.45 484.44 223.35 486.50 221.22 C488.33 219.33 490.12 217.39 491.90 215.44 C493.99 213.16 496.04 210.84 498.10 208.52 C500.01 206.38 501.94 204.26 503.80 202.07 C505.70 199.85 507.54 197.57 509.40 195.30 C511.31 192.98 513.19 190.64 515.10 188.32 C516.99 186.01 518.90 183.70 520.80 181.40 C522.70 179.11 524.57 176.80 526.50 174.53 C528.31 172.40 530.09 170.24 532.00 168.20 C534.05 166.03 536.16 163.90 538.40 161.92 C540.51 160.06 542.74 158.32 545.00 156.64 C547.05 155.11 549.20 153.73 551.30 152.27 C553.40 150.80 555.48 149.30 557.60 147.85 C559.29 146.70 560.89 145.38 562.70 144.42 C564.29 143.58 565.99 142.92 567.70 142.37 C569.75 141.71 571.89 141.40 574.00 140.96 C576.53 140.42 579.10 140.10 581.60 139.47 C583.28 139.04 584.91 138.40 586.60 138.01 C588.28 137.63 589.99 137.34 591.70 137.14 C593.79 136.90 595.90 136.78 598.00 136.83 C600.11 136.88 602.19 137.38 604.30 137.45 C606.40 137.52 608.50 137.28 610.60 137.23 C612.90 137.17 615.20 137.06 617.50 137.15 C618.33 137.19 619.17 137.25 620.00 137.30" stroke="#EA2A1E" stroke-dasharray="4.1 4.95"/>
<path d="M436.35 330.75 C447.37 310.41 458.31 290.04 469.40 269.74 C470.87 267.06 472.33 264.37 473.80 261.70 C475.29 258.99 476.78 256.27 478.30 253.57 C479.75 251.01 481.22 248.45 482.70 245.90 C484.15 243.40 485.60 240.89 487.10 238.42 C488.53 236.06 490.03 233.74 491.50 231.40 C492.96 229.08 494.44 226.78 495.90 224.46 C497.48 221.95 499.03 219.42 500.60 216.90 C502.06 214.57 503.51 212.22 505.00 209.90 C506.67 207.31 508.39 204.74 510.10 202.17 C511.76 199.69 513.39 197.19 515.10 194.75 C516.76 192.37 518.48 190.03 520.20 187.70 C522.04 185.19 523.87 182.68 525.80 180.24 C527.65 177.91 529.51 175.59 531.50 173.38 C533.36 171.30 535.31 169.30 537.30 167.35 C539.47 165.22 541.77 163.24 544.00 161.17 C546.41 158.95 548.86 156.77 551.20 154.47 C553.18 152.53 555.10 150.53 557.00 148.51 C558.49 146.93 559.86 145.25 561.40 143.72 C562.62 142.50 563.77 141.17 565.20 140.20 C566.38 139.40 567.68 138.78 569.00 138.24 C571.77 137.12 574.86 137.03 577.80 136.48 C580.33 136.02 582.84 135.42 585.40 135.18 C586.43 135.09 587.47 134.93 588.50 135.00 C590.01 135.10 591.41 135.87 592.90 136.17 C594.97 136.58 597.09 136.73 599.20 136.86 C601.33 137.00 603.48 137.17 605.60 136.94 C606.85 136.81 608.10 136.62 609.30 136.28 C610.62 135.90 611.82 135.21 613.10 134.72 C614.36 134.24 615.63 133.82 616.90 133.37 C618.20 132.91 619.50 132.46 620.80 132.00" stroke="#1010FF" stroke-dasharray="4.1 4.95"/>
<path d="M436.35 325.75 C446.97 306.11 457.23 286.28 468.20 266.84 C469.86 263.90 471.48 260.94 473.20 258.03 C474.85 255.25 476.55 252.50 478.30 249.78 C479.93 247.24 481.56 244.71 483.30 242.25 C484.94 239.92 486.60 237.61 488.40 235.41 C490.17 233.24 492.06 231.15 494.00 229.13 C496.02 227.03 498.20 225.08 500.30 223.06 C502.46 220.98 504.54 218.79 506.80 216.82 C508.86 215.02 511.04 213.37 513.20 211.70 C515.70 209.77 518.26 207.91 520.80 206.03 C523.09 204.34 525.42 202.68 527.70 200.97 C530.26 199.04 532.83 197.14 535.30 195.09 C537.66 193.14 539.92 191.06 542.20 189.00 C543.81 187.54 545.39 186.04 547.00 184.57 C548.85 182.89 550.57 181.04 552.60 179.56 C554.18 178.42 555.75 177.13 557.60 176.50 C559.01 176.03 560.61 175.28 562.00 175.80 C563.13 176.22 563.73 177.47 564.60 178.30 C565.00 180.60 565.47 182.89 565.80 185.20 C566.19 187.92 566.40 190.67 566.70 193.40 C567.87 194.27 568.81 195.58 570.20 196.00 C572.85 196.80 575.29 193.84 577.80 192.69 C580.76 191.33 583.66 189.82 586.60 188.41 C589.56 186.99 592.46 185.45 595.50 184.20 C598.38 183.02 601.29 181.90 604.30 181.09 C606.80 180.43 609.37 180.11 611.90 179.58 C613.57 179.22 615.28 179.01 616.90 178.49 C618.13 178.08 619.30 177.50 620.50 177.00" stroke="#14F014" stroke-dasharray="4.1 4.95"/>
</g>
<path d="M65.50 65.50H621.50V370.50H65.50Z" fill="none" stroke="#000" stroke-width="1.15"/>
<path d="M250.75 65.50V370.50M436.00 65.50V370.50" fill="none" stroke="#000" stroke-width="1.3"/>
<path d="M209.9 300.10H237.9" stroke="#A27E28" stroke-width="1.35" fill="none"/>
<text x="204.4" y="303.70" text-anchor="end" font-size="9.1" fill="#222">CO (100cm<tspan font-size="7" dy="-3.6">-3</tspan><tspan dy="3.6">)</tspan></text>
<path d="M209.9 308.60H237.9" stroke="#EA2A1E" stroke-width="1.35" fill="none"/>
<text x="204.4" y="312.20" text-anchor="end" font-size="9.1" fill="#222">CN (100cm<tspan font-size="7" dy="-3.6">-3</tspan><tspan dy="3.6">)</tspan></text>
<path d="M209.9 317.40H237.9" stroke="#1010FF" stroke-width="1.35" fill="none"/>
<text x="204.4" y="321.00" text-anchor="end" font-size="9.1" fill="#222">CS (100cm<tspan font-size="7" dy="-3.6">-3</tspan><tspan dy="3.6">)</tspan></text>
<path d="M209.9 326.00H237.9" stroke="#14F014" stroke-width="1.35" fill="none"/>
<text x="204.4" y="329.60" text-anchor="end" font-size="9.1" fill="#222">HNC (100cm<tspan font-size="7" dy="-3.6">-3</tspan><tspan dy="3.6">)</tspan></text>
<path d="M209.9 334.70H237.9" stroke="#A27E28" stroke-width="1.35" fill="none" stroke-dasharray="4.1 4.95"/>
<text x="204.4" y="338.30" text-anchor="end" font-size="9.1" fill="#222">CO (500cm<tspan font-size="7" dy="-3.6">-3</tspan><tspan dy="3.6">)</tspan></text>
<path d="M209.9 343.50H237.9" stroke="#EA2A1E" stroke-width="1.35" fill="none" stroke-dasharray="4.1 4.95"/>
<text x="204.4" y="347.10" text-anchor="end" font-size="9.1" fill="#222">CN (500cm<tspan font-size="7" dy="-3.6">-3</tspan><tspan dy="3.6">)</tspan></text>
<path d="M209.9 352.10H237.9" stroke="#1010FF" stroke-width="1.35" fill="none" stroke-dasharray="4.1 4.95"/>
<text x="204.4" y="355.70" text-anchor="end" font-size="9.1" fill="#222">CS (500cm<tspan font-size="7" dy="-3.6">-3</tspan><tspan dy="3.6">)</tspan></text>
<path d="M209.9 360.70H237.9" stroke="#14F014" stroke-width="1.35" fill="none" stroke-dasharray="4.1 4.95"/>
<text x="204.4" y="364.30" text-anchor="end" font-size="9.1" fill="#222">HNC (500cm<tspan font-size="7" dy="-3.6">-3</tspan><tspan dy="3.6">)</tspan></text>
<text x="157.53" y="51.8" text-anchor="middle" font-size="10.8" fill="#111">A<tspan font-size="8.6" dy="2.6">V</tspan><tspan dy="-2.6">=1, T</tspan><tspan font-size="8.6" dy="2.6">gas</tspan><tspan dy="-2.6">=40K, T</tspan><tspan font-size="8.6" dy="2.6">dust</tspan><tspan dy="-2.6">=20K</tspan></text>
<text x="158.12" y="405.3" text-anchor="middle" font-size="12.7" font-weight="bold" fill="#000">log (Time) (year)</text>
<text x="342.77" y="51.8" text-anchor="middle" font-size="10.8" fill="#111">A<tspan font-size="8.6" dy="2.6">V</tspan><tspan dy="-2.6">=2, T</tspan><tspan font-size="8.6" dy="2.6">gas</tspan><tspan dy="-2.6">=40K, T</tspan><tspan font-size="8.6" dy="2.6">dust</tspan><tspan dy="-2.6">=20K</tspan></text>
<text x="343.38" y="405.3" text-anchor="middle" font-size="12.7" font-weight="bold" fill="#000">log (Time) (year)</text>
<text x="528.15" y="51.8" text-anchor="middle" font-size="10.8" fill="#111">A<tspan font-size="8.6" dy="2.6">V</tspan><tspan dy="-2.6">=3, T</tspan><tspan font-size="8.6" dy="2.6">gas</tspan><tspan dy="-2.6">=40K, T</tspan><tspan font-size="8.6" dy="2.6">dust</tspan><tspan dy="-2.6">=20K</tspan></text>
<text x="528.75" y="405.3" text-anchor="middle" font-size="12.7" font-weight="bold" fill="#000">log (Time) (year)</text>
<text x="65.60" y="385.9" text-anchor="middle" font-size="8.2" fill="#111">10<tspan font-size="6.3" dy="-4.2">0</tspan></text>
<text x="92.08" y="385.9" text-anchor="middle" font-size="8.2" fill="#111">10<tspan font-size="6.3" dy="-4.2">1</tspan></text>
<text x="118.55" y="385.9" text-anchor="middle" font-size="8.2" fill="#111">10<tspan font-size="6.3" dy="-4.2">2</tspan></text>
<text x="145.03" y="385.9" text-anchor="middle" font-size="8.2" fill="#111">10<tspan font-size="6.3" dy="-4.2">3</tspan></text>
<text x="171.50" y="385.9" text-anchor="middle" font-size="8.2" fill="#111">10<tspan font-size="6.3" dy="-4.2">4</tspan></text>
<text x="197.98" y="385.9" text-anchor="middle" font-size="8.2" fill="#111">10<tspan font-size="6.3" dy="-4.2">5</tspan></text>
<text x="224.46" y="385.9" text-anchor="middle" font-size="8.2" fill="#111">10<tspan font-size="6.3" dy="-4.2">6</tspan></text>
<text x="250.85" y="385.9" text-anchor="middle" font-size="8.2" fill="#111">10<tspan font-size="6.3" dy="-4.2">0</tspan></text>
<text x="277.33" y="385.9" text-anchor="middle" font-size="8.2" fill="#111">10<tspan font-size="6.3" dy="-4.2">1</tspan></text>
<text x="303.80" y="385.9" text-anchor="middle" font-size="8.2" fill="#111">10<tspan font-size="6.3" dy="-4.2">2</tspan></text>
<text x="330.28" y="385.9" text-anchor="middle" font-size="8.2" fill="#111">10<tspan font-size="6.3" dy="-4.2">3</tspan></text>
<text x="356.75" y="385.9" text-anchor="middle" font-size="8.2" fill="#111">10<tspan font-size="6.3" dy="-4.2">4</tspan></text>
<text x="383.23" y="385.9" text-anchor="middle" font-size="8.2" fill="#111">10<tspan font-size="6.3" dy="-4.2">5</tspan></text>
<text x="409.71" y="385.9" text-anchor="middle" font-size="8.2" fill="#111">10<tspan font-size="6.3" dy="-4.2">6</tspan></text>
<text x="436.10" y="385.9" text-anchor="middle" font-size="8.2" fill="#111">10<tspan font-size="6.3" dy="-4.2">0</tspan></text>
<text x="462.58" y="385.9" text-anchor="middle" font-size="8.2" fill="#111">10<tspan font-size="6.3" dy="-4.2">1</tspan></text>
<text x="489.05" y="385.9" text-anchor="middle" font-size="8.2" fill="#111">10<tspan font-size="6.3" dy="-4.2">2</tspan></text>
<text x="515.53" y="385.9" text-anchor="middle" font-size="8.2" fill="#111">10<tspan font-size="6.3" dy="-4.2">3</tspan></text>
<text x="542.00" y="385.9" text-anchor="middle" font-size="8.2" fill="#111">10<tspan font-size="6.3" dy="-4.2">4</tspan></text>
<text x="568.48" y="385.9" text-anchor="middle" font-size="8.2" fill="#111">10<tspan font-size="6.3" dy="-4.2">5</tspan></text>
<text x="594.96" y="385.9" text-anchor="middle" font-size="8.2" fill="#111">10<tspan font-size="6.3" dy="-4.2">6</tspan></text>
<text x="621.43" y="385.9" text-anchor="middle" font-size="8.2" fill="#111">10<tspan font-size="6.3" dy="-4.2">7</tspan></text>
<text x="57.3" y="374.00" text-anchor="end" font-size="8.3" fill="#111">10<tspan font-size="6.0" dy="-4.1">-22</tspan></text>
<text x="57.3" y="341.89" text-anchor="end" font-size="8.3" fill="#111">10<tspan font-size="6.0" dy="-4.1">-20</tspan></text>
<text x="57.3" y="309.79" text-anchor="end" font-size="8.3" fill="#111">10<tspan font-size="6.0" dy="-4.1">-18</tspan></text>
<text x="57.3" y="277.68" text-anchor="end" font-size="8.3" fill="#111">10<tspan font-size="6.0" dy="-4.1">-16</tspan></text>
<text x="57.3" y="245.58" text-anchor="end" font-size="8.3" fill="#111">10<tspan font-size="6.0" dy="-4.1">-14</tspan></text>
<text x="57.3" y="213.47" text-anchor="end" font-size="8.3" fill="#111">10<tspan font-size="6.0" dy="-4.1">-12</tspan></text>
<text x="57.3" y="181.37" text-anchor="end" font-size="8.3" fill="#111">10<tspan font-size="6.0" dy="-4.1">-10</tspan></text>
<text x="57.3" y="149.26" text-anchor="end" font-size="8.3" fill="#111">10<tspan font-size="6.0" dy="-4.1">-8</tspan></text>
<text x="57.3" y="117.16" text-anchor="end" font-size="8.3" fill="#111">10<tspan font-size="6.0" dy="-4.1">-6</tspan></text>
<text x="57.3" y="85.05" text-anchor="end" font-size="8.3" fill="#111">10<tspan font-size="6.0" dy="-4.1">-4</tspan></text>
<text transform="translate(16.3 218.4) rotate(-90)" text-anchor="middle" font-size="12.0" font-weight="bold" fill="#000">n/n<tspan font-size="9.6" dy="3.6">H</tspan></text>
</svg>
</body></html>
